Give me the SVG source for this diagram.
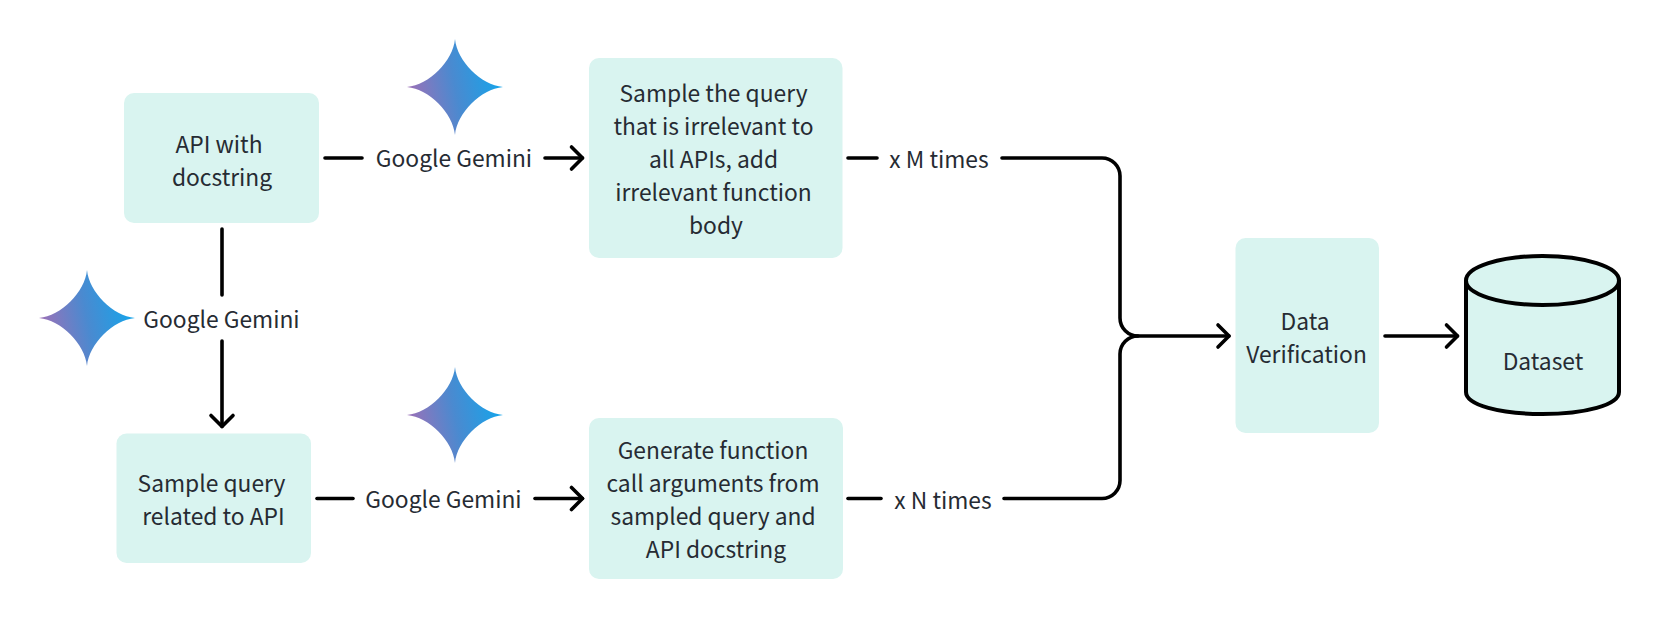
<svg xmlns="http://www.w3.org/2000/svg" xmlns:xlink="http://www.w3.org/1999/xlink" width="1661" height="618" viewBox="0 0 1661 618">
<style>
.box{fill:#d9f4f0}
.t{font-family:"Noto Sans CJK SC","Noto Sans",sans-serif;font-size:22.8px;fill:#262b33;text-anchor:middle}
.c{fill:none;stroke:#000;stroke-width:3.6;stroke-linecap:round;stroke-linejoin:round}
.cyl{fill:#d9f4f0;stroke:#000;stroke-width:4;stroke-linejoin:round}
</style>
<defs>
<linearGradient id="g" x1="0" y1="0.6" x2="1" y2="0.4"><stop offset="0" stop-color="#a06fb6"/><stop offset="0.5" stop-color="#4a8ad0"/><stop offset="1" stop-color="#12a6ec"/></linearGradient>
<path id="star" d="M0-48C2-26 26-2 48 0C26 2 2 26 0 48C-2 26-26 2-48 0C-26-2-2-26 0-48Z" fill="url(#g)"/>
<marker id="a" markerUnits="userSpaceOnUse" markerWidth="24" markerHeight="28" refX="21" refY="14" orient="auto"><path d="M10 3L21 14L10 25" fill="none" stroke="#000" stroke-width="3.6" stroke-linecap="round" stroke-linejoin="round"/></marker>
</defs>
<rect width="1661" height="618" fill="#fff"/>
<g id="connectors">
<path class="c" d="M325 158H362"/>
<path class="c" d="M545 158H582.5" marker-end="url(#a)"/>
<path class="c" d="M222 229V295"/>
<path class="c" d="M222 341V426.5" marker-end="url(#a)"/>
<path class="c" d="M317 498.5H353"/>
<path class="c" d="M535 498.5H582.5" marker-end="url(#a)"/>
<path class="c" d="M848 158H877"/>
<path class="c" d="M848 498.5H881"/>
<path class="c" d="M1002 158H1102A18 18 0 0 1 1120 176V318A18 18 0 0 0 1138 336H1229" marker-end="url(#a)"/>
<path class="c" d="M1004 498.5H1102A18 18 0 0 0 1120 480.500V354A18 18 0 0 1 1138 336"/>
<path class="c" d="M1385 336H1457.5" marker-end="url(#a)"/>
</g>
<g id="node-api"><rect class="box" x="124" y="93" width="195" height="130" rx="10"/><text class="t" x="219" y="152.500">API with</text><text class="t" x="222" y="185.500">docstring</text></g>
<g id="node-irrelevant"><rect class="box" x="589" y="58" width="253.500" height="200" rx="10"/><text class="t" x="713.500" y="102">Sample the query</text><text class="t" x="713.500" y="135">that is irrelevant to</text><text class="t" x="713.500" y="168">all APIs, add</text><text class="t" x="713.500" y="201">irrelevant function</text><text class="t" x="716" y="234">body</text></g>
<g id="node-query"><rect class="box" x="116.500" y="433.500" width="194.500" height="129.500" rx="10"/><text class="t" x="211.500" y="492">Sample query</text><text class="t" x="213.500" y="525">related to API</text></g>
<g id="node-generate"><rect class="box" x="589" y="418" width="254" height="161" rx="10"/><text class="t" x="713" y="459">Generate function</text><text class="t" x="713" y="492">call arguments from</text><text class="t" x="713" y="525">sampled query and</text><text class="t" x="716" y="558">API docstring</text></g>
<g id="node-verification"><rect class="box" x="1235.500" y="238" width="143.500" height="195" rx="10"/><text class="t" x="1305" y="329.500">Data</text><text class="t" x="1306.500" y="362.500">Verification</text></g>
<g id="node-dataset"><path class="cyl" d="M1466 280V392C1466 405 1500 414 1542.500 414S1619 405 1619 392V280"/><ellipse class="cyl" cx="1542.500" cy="280.500" rx="76.500" ry="24.500"/><text class="t" x="1543" y="370">Dataset</text></g>
<g id="gemini-1"><use xlink:href="#star" href="#star" x="455" y="87"/><text class="t" x="454" y="167">Google Gemini</text></g>
<g id="gemini-2"><use xlink:href="#star" href="#star" x="87" y="318"/><text class="t" x="221.500" y="328">Google Gemini</text></g>
<g id="gemini-3"><use xlink:href="#star" href="#star" x="455" y="415"/><text class="t" x="443.500" y="508">Google Gemini</text></g>
<g id="label-m"><text class="t" x="939" y="168">x M times</text></g>
<g id="label-n"><text class="t" x="943" y="508.500">x N times</text></g>
</svg>
